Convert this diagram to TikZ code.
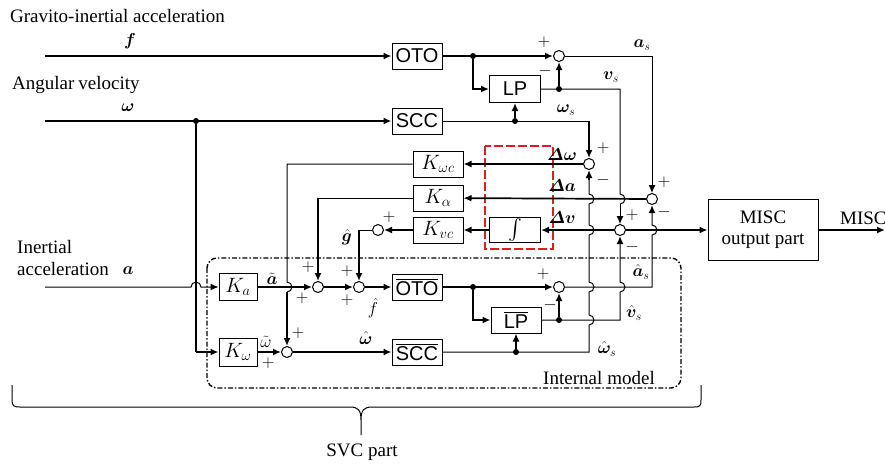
\documentclass[tikz,border=0pt]{standalone}
\usepackage{fontspec}
\setmainfont{Liberation Serif}
\newfontfamily\blkfont{Liberation Sans}
\usepackage{amsmath}
\usepackage{bm}
\usetikzlibrary{arrows.meta,calc}
\definecolor{boxred}{RGB}{220,30,30}

\begin{document}
\begin{tikzpicture}[x=1pt, y=-1pt, >={Latex[length=8pt,width=7pt]},
  thk/.style={line width=1.7pt},
  thn/.style={line width=1pt},
  blk/.style={draw, thn, minimum width=50pt, minimum height=26pt, inner sep=0pt, font=\fontsize{20}{22}\blkfont},
  kblk/.style={draw, thn, minimum width=50pt, minimum height=26pt, inner sep=0pt, font=\fontsize{20}{22}\selectfont},
  sumc/.style={draw, thn, circle, minimum size=11pt, inner sep=0pt},
  dotn/.style={circle, fill, minimum size=6pt, inner sep=0pt},
  txt/.style={font=\fontsize{19}{21}\selectfont, inner sep=0pt},
  lbl/.style={font=\fontsize{18}{20}\selectfont, inner sep=0pt},
  hlbl/.style={font=\fontsize{17}{18}\selectfont, inner sep=0pt},
  sgn/.style={font=\fontsize{17}{18}\selectfont, inner sep=0pt},
  bumpu/.style={insert path={arc[start angle=-90, end angle=90, radius=5pt]}},
  bumpd/.style={insert path={arc[start angle=90, end angle=-90, radius=5pt]}},
  bumph/.style={insert path={arc[start angle=180, end angle=0, radius=5pt]}}]
\useasboundingbox (0,0) rectangle (885,467);

% input signals
\coordinate (fin) at (45,56);
\coordinate (win) at (45,121);
\coordinate (ain) at (45,287);
\coordinate (mout) at (885,230);
\node[txt, anchor=base west] (tgia) at (10,22) {Gravito-inertial acceleration};
\node[lbl] (lf) at (130,41) {$\bm{f}$};
\node[txt, anchor=base west] (tang) at (12,89) {Angular\hspace{4pt}velocity};
\node[lbl] (lw) at (128,108) {$\bm{\omega}$};
\node[txt, anchor=base west] (tia) at (17,253) {Inertial};
\node[txt, anchor=base west] (tia2) at (17,275) {acceleration};
\node[lbl] (la) at (128,271) {$\bm{a}$};

% sensor part
\node[blk] (oto) at (417,56) {OTO};
\node[blk, minimum width=51pt, minimum height=27pt] (lp) at (515,89) {LP};
\node[blk] (scc) at (417,121) {SCC};
\node[sumc] (s1) at (559,56) {};
\node[dotn] (d1) at (473,56) {};
\node[dotn] (d2) at (559,89) {};
\node[dotn] (d3) at (515,121) {};
\node[dotn] (d4) at (196,121) {};

% error feedback
\node[kblk] (kwc) at (438,164) {$K_{\omega c}$};
\node[kblk] (ka) at (438,198) {$K_{\alpha}$};
\node[kblk] (kv) at (438,230) {$K_{vc}$};
\node[kblk, minimum width=51pt, minimum height=25pt] (intg) at (515,230) {$\int$};
\node[sumc] (sW) at (589,164) {};
\node[sumc] (sA) at (652,199) {};
\node[sumc] (sV) at (620,230) {};
\node[sumc] (sG) at (378,230) {};
\node[draw, thn, minimum width=110pt, minimum height=61pt, align=center,
      font=\fontsize{19}{21}\selectfont] (misc) at (763,230) {MISC\\output part};

% internal model
\node[kblk, minimum width=38pt, minimum height=27pt] (Ka) at (238,287) {$K_a$};
\node[kblk, minimum width=38pt, minimum height=28pt] (Kw) at (238,352) {$K_\omega$};
\node[sumc] (sa1) at (318,287) {};
\node[sumc] (sa2) at (359,287) {};
\node[sumc] (sw) at (287,352) {};
\node[blk] (otob) at (417,287) {$\overline{\mbox{OTO}}$};
\node[blk] (lpb) at (516,320) {$\overline{\mbox{LP}}$};
\node[blk] (sccb) at (417,352) {$\overline{\mbox{SCC}}$};
\node[sumc] (s1b) at (559,287) {};
\node[dotn] (d1b) at (473,287) {};
\node[dotn] (d2b) at (559,320) {};
\node[dotn] (d3b) at (516,352) {};

% frames
\draw[boxred, line width=1.5pt, dash pattern=on 9pt off 3pt] (485,146) rectangle (553,249);
\draw[line width=1.4pt, dash pattern=on 5pt off 2pt on 1.5pt off 2pt, rounded corners=10pt]
  (207,258) rectangle (681,388);
\node[txt, anchor=base east] (tim) at (655,384) {Internal\hspace{5pt}model};
\draw[thn] (12,385) -- (12,400) .. controls (12,406) and (14,407) .. (20,407) -- (350,407)
  .. controls (358,407) and (361,410) .. (361,420) -- (361,435)
  (361,420) .. controls (361,410) and (364,407) .. (372,407) -- (694,407)
  .. controls (700,407) and (701,406) .. (701,400) -- (701,385);
\node[txt] (tsvc) at (362,452) {SVC part};

% sensor connections
\draw[thk,->] (fin) -- (oto);
\draw[thk,->] (win) -- (scc);
\draw[thk,->] (oto) -- (s1);
\draw[thk,->] (d1) |- (lp);
\draw[thn] (lp.east) -- (sV |- lp) -- ($(sV |- sA)+(0,-5)$) [bumpd];
\draw[thn,->] ($(sV |- sA)+(0,5)$) -- (sV);
\draw[thk,->] (d2) -- (s1);
\draw[thn] (scc.east) -- (sW |- scc);
\draw[thk,->] (sW |- scc) -- (sW);
\draw[thk,->] (d3) -- (lp);
\draw[thn,->] (s1) -- (sA |- s1) -- (sA);
\node[lbl] (las) at (642,45) {$\bm{a}_s$};
\node[lbl] (lvs) at (611,77) {$\bm{v}_s$};
\node[lbl] (lws) at (566,110) {$\bm{\omega}_s$};

% feedback connections
\draw[thk,->] (sW) -- (kwc);
\draw[thk,->] (sA) -- (ka);
\draw[thk,->] (sV) -- (intg);
\draw[thk,->] (intg) -- (kv);
\draw[thk,->] (kv) -- (sG);
\draw[thn] (sG) -- (sa2 |- sG);
\draw[thk,->] (sa2 |- sG) -- (sa2);
\draw[thn] (ka.west) -- (sa1 |- ka);
\draw[thk,->] (sa1 |- ka) -- (sa1);
\draw[thn] (kwc.west) -- (sw |- kwc) -- ($(sw |- Ka)+(0,-5)$) [bumpd];
\draw[thk,->] ($(sw |- Ka)+(0,5)$) -- (sw);
\draw[thk,->] (sV) -- (misc);
\draw[thk,->] (misc) -- (mout);
\node[txt, anchor=base west] (tmisc) at (840,224) {MISC};
\node[lbl] (ldw) at (562,155) {$\bm{\varDelta\omega}$};
\node[lbl] (lda) at (562,186) {$\bm{\varDelta a}$};
\node[lbl] (ldv) at (562,218) {$\bm{\varDelta v}$};
\node[lbl] (lg) at (347,237) {$\hat{\bm{g}}$};

% internal model connections
\draw[thk] (d4) -- (d4 |- Kw);
\draw[thk,->] (d4 |- Kw) -- (Kw);
\draw[thn,->] (ain) -- ($(d4 |- Ka)+(-5,0)$) [bumph] -- (Ka);
\draw[thk,->] (Ka) -- (sa1);
\draw[thk,->] (sa1) -- (sa2);
\draw[thk,->] (sa2) -- (otob);
\draw[thk,->] (Kw) -- (sw);
\draw[thk,->] (sw) -- (sccb);
\draw[thk,->] (otob) -- (s1b);
\draw[thk,->] (d1b) |- (lpb);
\draw[thk,->] (d2b) -- (s1b);
\draw[thk,->] (d3b) -- (lpb);
\draw[thn] (s1b) -- (sA |- s1b) -- ($(sA |- sV)+(0,5)$) [bumpu] -- ($(sA)+(0,14)$);
\draw[thk,->] ($(sA)+(0,14)$) -- (sA);
\draw[thn] (lpb.east) -- (sV |- lpb) -- ($(sV |- s1b)+(0,5)$) [bumpu] -- ($(sV)+(0,14)$);
\draw[thk,->] ($(sV)+(0,14)$) -- (sV);
\draw[thn] (sccb.east) -- (sW |- sccb) -- ($(sW |- lpb)+(0,5)$) [bumpu]
  -- ($(sW |- s1b)+(0,5)$) [bumpu] -- ($(sW |- sV)+(0,5)$) [bumpu]
  -- ($(sW |- sA)+(0,5)$) [bumpu] -- ($(sW)+(0,16)$);
\draw[thk,->] ($(sW)+(0,16)$) -- (sW);
\node[lbl] (lat) at (272,279) {$\tilde{\bm{a}}$};
\node[hlbl] (lwt) at (266,342) {$\tilde{\omega}$};
\node[hlbl] (lfh) at (373,308) {$\hat{f}$};
\node[hlbl] (lwh) at (366,338) {$\hat{\bm{\omega}}$};
\node[hlbl] (lash) at (641,272) {$\hat{\bm{a}}_s$};
\node[hlbl] (lvsh) at (634,313) {$\hat{\bm{v}}_s$};
\node[hlbl] (lwsh) at (607,349) {$\hat{\bm{\omega}}_s$};

% signs
\node[sgn] (p1) at (544,42) {$+$};
\node[sgn] (m1) at (545,71) {$-$};
\node[sgn] (p2) at (603,148) {$+$};
\node[sgn] (m2) at (603,180) {$-$};
\node[sgn] (p3) at (664,182) {$+$};
\node[sgn] (m3) at (664,212) {$-$};
\node[sgn] (p4) at (632,215) {$+$};
\node[sgn] (m4) at (632,247) {$-$};
\node[sgn] (p5) at (389,217) {$+$};
\node[sgn] (p6) at (308,267) {$+$};
\node[sgn] (p7) at (302,298) {$+$};
\node[sgn] (p8) at (347,271) {$+$};
\node[sgn] (p9) at (347,300) {$+$};
\node[sgn] (p10) at (543,274) {$+$};
\node[sgn] (m10) at (550,305) {$-$};
\node[sgn] (p11) at (298,333) {$+$};
\node[sgn] (p12) at (268,363) {$+$};
\end{tikzpicture}
\end{document}
